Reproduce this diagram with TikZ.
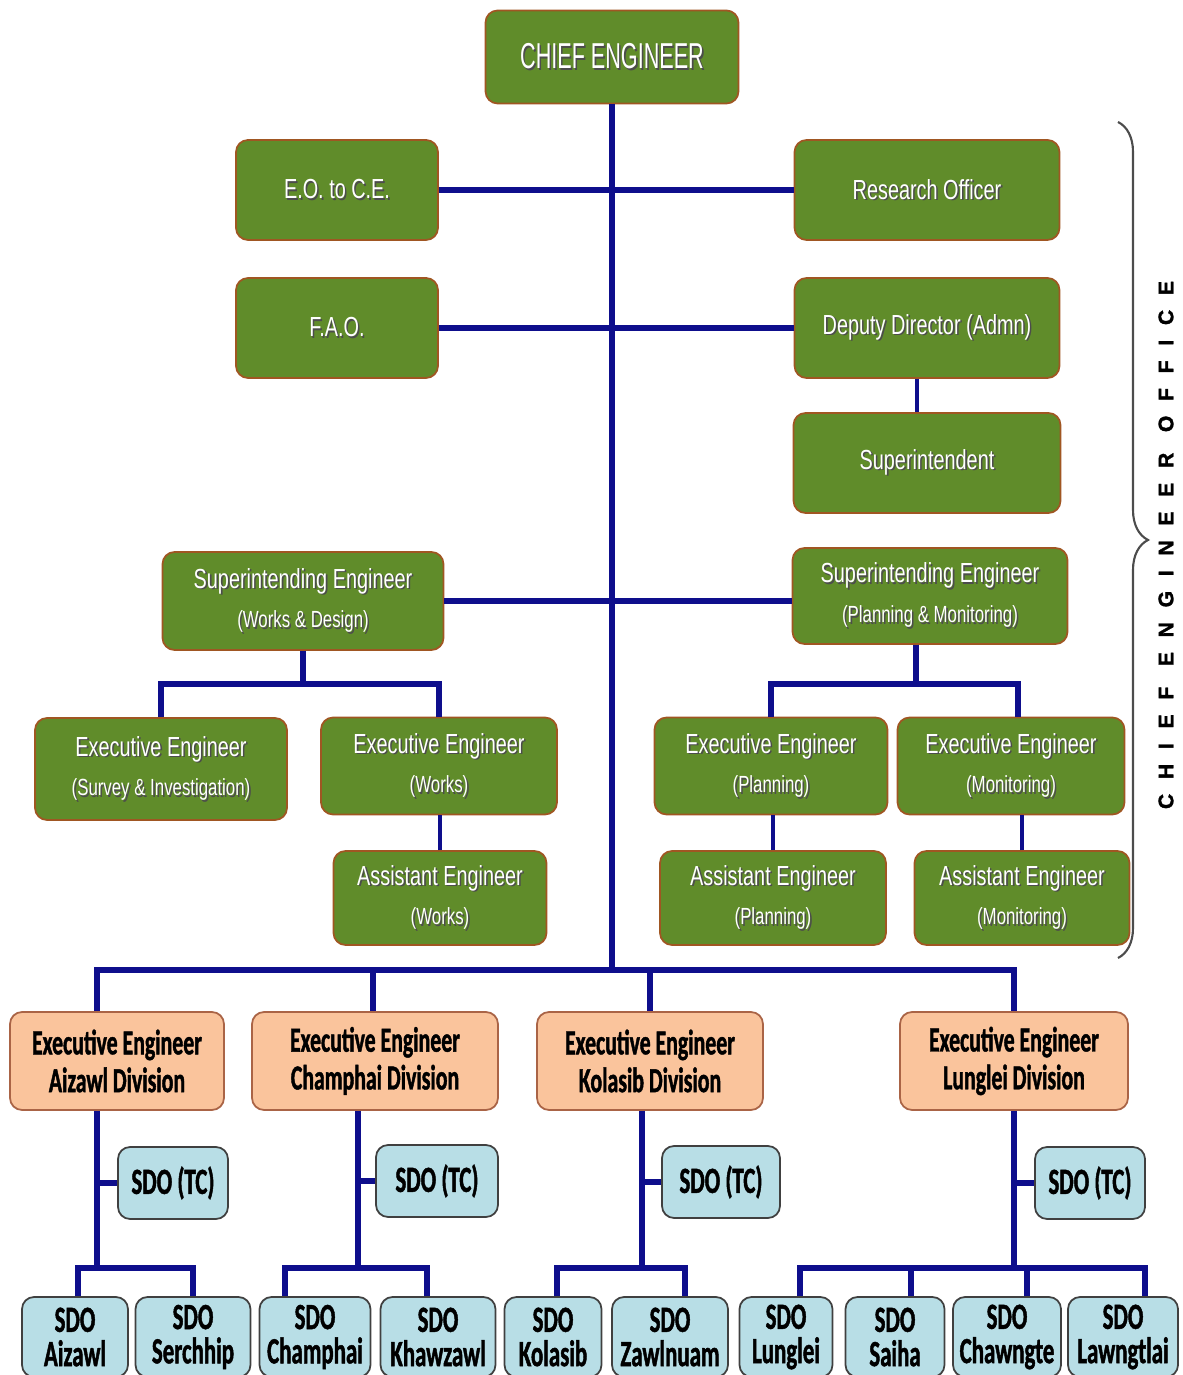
\documentclass[tikz,border=0pt]{standalone}
\usepackage{fontspec}
\setmainfont{Liberation Sans}
\newfontfamily\grfont[FakeStretch=0.72]{Liberation Sans}
\newfontfamily\cefont[FakeStretch=0.6]{Liberation Sans}
\newfontfamily\divfont[FakeStretch=0.62,BoldFeatures={FakeBold=1.2}]{Carlito}
\newfontfamily\sidefont[LetterSpace=70,BoldFeatures={FakeBold=1.5}]{Liberation Sans}
\usepackage{tikz}
\usetikzlibrary{decorations.pathreplacing}

\definecolor{boxgreen}{RGB}{96,140,42}
\definecolor{greenedge}{RGB}{160,86,34}
\definecolor{divfill}{RGB}{250,196,156}
\definecolor{divedge}{RGB}{170,100,70}
\definecolor{sdofill}{RGB}{184,222,230}
\definecolor{sdoedge}{RGB}{64,64,64}
\definecolor{linkblue}{RGB}{14,14,140}

% white text with a dark drop shadow
\newcommand{\shd}[1]{\leavevmode\rlap{\kern0.9pt\raisebox{-0.9pt}{\textcolor{black!70}{#1}}}#1}
\newcommand{\gsub}[1]{{\fontsize{13.3}{22.5}\selectfont\shd{#1}}}

\begin{document}
\begin{tikzpicture}[
    greenbox/.style={draw=greenedge,fill=boxgreen,line width=1pt,rounded corners=0.24cm,
      text=white,align=center,inner sep=0pt,font=\grfont\fontsize{15.7}{22.5}\selectfont},
    divbox/.style={draw=divedge,fill=divfill,line width=1pt,rounded corners=0.24cm,
      align=center,inner sep=0pt,minimum height=1.96cm,
      font=\divfont\bfseries\fontsize{20}{21.5}\selectfont},
    sdobox/.style={draw=sdoedge,fill=sdofill,line width=1pt,rounded corners=0.24cm,
      align=center,inner sep=0pt,font=\divfont\bfseries\fontsize{21}{19.5}\selectfont},
    link/.style={line width=3.2pt,draw=linkblue},
    thinlink/.style={line width=2.4pt,draw=linkblue}]

  \def\f{*0.02}

  \useasboundingbox (0,0) rectangle (1182\f,1375\f);

  % chief engineer office
  \node[greenbox,minimum width=5.06cm,minimum height=1.86cm] (ce) at (612\f,1318\f)
    {\cefont\fontsize{20.5}{24}\selectfont\shd{CHIEF ENGINEER}};
  \node[greenbox,minimum width=4.04cm,minimum height=2cm] (eo) at (337\f,1185\f) {\shd{E.O. to C.E.}};
  \node[greenbox,minimum width=5.3cm,minimum height=2cm] (ro) at (927\f,1185\f) {\shd{Research Officer}};
  \node[greenbox,minimum width=4.04cm,minimum height=2cm] (fao) at (337\f,1047\f) {\shd{F.A.O.}};
  \node[greenbox,minimum width=5.3cm,minimum height=2cm] (dd) at (927\f,1047\f) {\shd{Deputy Director (Admn)}};
  \node[greenbox,minimum width=5.34cm,minimum height=2cm] (sup) at (927\f,912\f) {\shd{Superintendent}};

  \node[greenbox,minimum width=5.62cm,minimum height=1.96cm] (sew) at (303\f,774\f)
    {\shd{Superintending Engineer}\\ \gsub{(Works \& Design)}};
  \node[greenbox,minimum width=5.5cm,minimum height=1.92cm] (sep) at (930\f,779\f)
    {\shd{Superintending Engineer}\\ \gsub{(Planning \& Monitoring)}};

  \node[greenbox,minimum width=5.04cm,minimum height=2.04cm] (eesi) at (161\f,606\f)
    {\shd{Executive Engineer}\\ \gsub{(Survey \& Investigation)}};
  \node[greenbox,minimum width=4.72cm,minimum height=1.94cm] (eew) at (439\f,609\f)
    {\shd{Executive Engineer}\\ \gsub{(Works)}};
  \node[greenbox,minimum width=4.66cm,minimum height=1.94cm] (eep) at (771\f,609\f)
    {\shd{Executive Engineer}\\ \gsub{(Planning)}};
  \node[greenbox,minimum width=4.54cm,minimum height=1.94cm] (eem) at (1011\f,609\f)
    {\shd{Executive Engineer}\\ \gsub{(Monitoring)}};

  \node[greenbox,minimum width=4.26cm,minimum height=1.88cm] (aew) at (440\f,477\f)
    {\shd{Assistant Engineer}\\ \gsub{(Works)}};
  \node[greenbox,minimum width=4.52cm,minimum height=1.88cm] (aep) at (773\f,477\f)
    {\shd{Assistant Engineer}\\ \gsub{(Planning)}};
  \node[greenbox,minimum width=4.3cm,minimum height=1.88cm] (aem) at (1022\f,477\f)
    {\shd{Assistant Engineer}\\ \gsub{(Monitoring)}};

  % divisions
  \node[divbox,minimum width=4.28cm] (eeaiz) at (117\f,314\f) {Executive Engineer\\ Aizawl Division};
  \node[divbox,minimum width=4.92cm] (eecha) at (375\f,314\f) {Executive Engineer\\ Champhai Division};
  \node[divbox,minimum width=4.52cm] (eekol) at (650\f,314\f) {Executive Engineer\\ Kolasib Division};
  \node[divbox,minimum width=4.56cm] (eelun) at (1014\f,314\f) {Executive Engineer\\ Lunglei Division};

  \node[sdobox,minimum width=2.2cm,minimum height=1.44cm] (tcaiz) at (173\f,192\f) {SDO (TC)};
  \node[sdobox,minimum width=2.44cm,minimum height=1.44cm] (tccha) at (437\f,194\f) {SDO (TC)};
  \node[sdobox,minimum width=2.36cm,minimum height=1.44cm] (tckol) at (721\f,193\f) {SDO (TC)};
  \node[sdobox,minimum width=2.2cm,minimum height=1.44cm] (tclun) at (1090\f,192\f) {SDO (TC)};

  \node[sdobox,minimum width=2.12cm,minimum height=1.6cm] (sdoaiz) at (75\f,38\f) {SDO\\ Aizawl};
  \node[sdobox,minimum width=2.3cm,minimum height=1.6cm] (sdoser) at (193\f,38\f) {SDO\\ Serchhip};
  \node[sdobox,minimum width=2.22cm,minimum height=1.6cm] (sdocha) at (315\f,38\f) {SDO\\ Champhai};
  \node[sdobox,minimum width=2.3cm,minimum height=1.6cm] (sdokha) at (438\f,38\f) {SDO\\ Khawzawl};
  \node[sdobox,minimum width=1.94cm,minimum height=1.6cm] (sdokol) at (553\f,38\f) {SDO\\ Kolasib};
  \node[sdobox,minimum width=2.32cm,minimum height=1.6cm] (sdozaw) at (670\f,38\f) {SDO\\ Zawlnuam};
  \node[sdobox,minimum width=1.86cm,minimum height=1.6cm] (sdolun) at (786\f,38\f) {SDO\\ Lunglei};
  \node[sdobox,minimum width=1.98cm,minimum height=1.6cm] (sdosai) at (895\f,38\f) {SDO\\ Saiha};
  \node[sdobox,minimum width=2.16cm,minimum height=1.6cm] (sdocwt) at (1007\f,38\f) {SDO\\ Chawngte};
  \node[sdobox,minimum width=2.2cm,minimum height=1.6cm] (sdolaw) at (1123\f,38\f) {SDO\\ Lawngtlai};

  % connectors
  \coordinate (divbus) at (612\f,405\f);
  \draw[link] (ce.south) -- (divbus);
  \draw[link] (eo.east) -- (ro.west);
  \draw[link] (fao.east) -- (dd.west);
  \draw[thinlink] ([xshift=-0.2cm]dd.south) -- ([xshift=-0.2cm]sup.north);
  \draw[link] (sew.east) -- (sew.east -| sep.west);

  \draw[link] (sew.south) -- ++(0,-0.66) -| (eesi.north);
  \draw[link] (sew.south) -- ++(0,-0.66) -| (eew.north);
  \draw[thinlink] (aew.north) -- (aew.north |- eew.south);

  \draw[link] ([xshift=-0.28cm]sep.south) -- ++(0,-0.78) -| (eep.north);
  \draw[link] ([xshift=-0.28cm]sep.south) -- ++(0,-0.78) -| ([xshift=0.14cm]eem.north);
  \draw[thinlink] (aep.north) -- (aep.north |- eep.south);
  \draw[thinlink] (aem.north) -- (aem.north |- eem.south);

  \draw[link] (divbus) -| ([xshift=-0.4cm]eeaiz.north);
  \draw[link] (divbus) -| ([xshift=-0.04cm]eecha.north);
  \draw[link] (divbus) -| (eekol.north);
  \draw[link] (divbus) -| (eelun.north);

  \draw[link] ([xshift=-0.4cm]eeaiz.south) -- ++(0,-3.14) coordinate (aizbus);
  \draw[link] (tcaiz.west) -- (tcaiz.west -| aizbus);
  \draw[link] (aizbus) -| ([xshift=0.06cm]sdoaiz.north);
  \draw[link] (aizbus) -| (sdoser.north);

  \draw[link] ([xshift=-0.34cm]eecha.south) -- ++(0,-3.14) coordinate (chabus);
  \draw[link] (tccha.west) -- (tccha.west -| chabus);
  \draw[link] (chabus) -| ([xshift=-0.6cm]sdocha.north);
  \draw[link] (chabus) -| ([xshift=-0.22cm]sdokha.north);

  \draw[link] ([xshift=-0.16cm]eekol.south) -- ++(0,-3.14) coordinate (kolbus);
  \draw[link] (tckol.west) -- (tckol.west -| kolbus);
  \draw[link] (kolbus) -| ([xshift=0.08cm]sdokol.north);
  \draw[link] (kolbus) -| ([xshift=0.3cm]sdozaw.north);

  \draw[link] (eelun.south) -- ++(0,-3.14) coordinate (lunbus);
  \draw[link] (tclun.west) -- (tclun.west -| lunbus);
  \draw[link] (lunbus) -| ([xshift=0.28cm]sdolun.north);
  \draw[link] (lunbus) -| ([xshift=0.32cm]sdosai.north);
  \draw[link] (lunbus) -| ([xshift=0.4cm]sdocwt.north);
  \draw[link] (lunbus) -| ([xshift=0.44cm]sdolaw.north);

  % office brace
  \draw[decorate,decoration={brace,amplitude=0.6cm},line width=1.2pt,draw=black!70]
    (1118\f,1253\f) -- (1118\f,417\f);
  \node[rotate=90,font=\sidefont\bfseries\fontsize{12}{14}\selectfont] (office) at (1166\f,830\f)
    {CHIEF ENGINEER OFFICE};
\end{tikzpicture}
\end{document}
